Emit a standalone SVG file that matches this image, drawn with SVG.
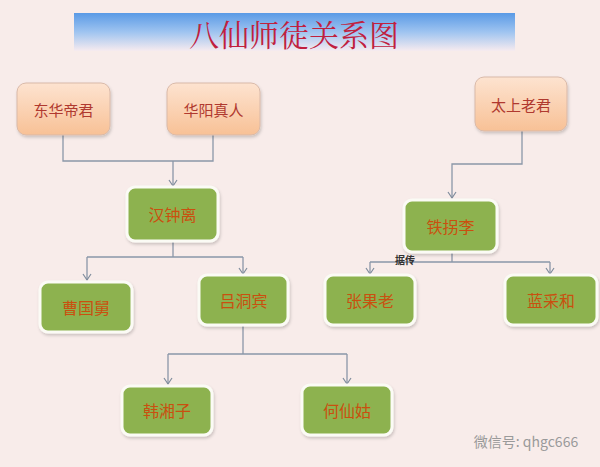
<svg xmlns="http://www.w3.org/2000/svg" width="600" height="467" viewBox="0 0 600 467">
<defs>
<linearGradient id="banner" x1="0" y1="0" x2="0" y2="1">
<stop offset="0" stop-color="#5a9ae6"/>
<stop offset="0.5" stop-color="#9fc4f0"/>
<stop offset="1" stop-color="#f7ebef"/>
</linearGradient>
<linearGradient id="peach" x1="0" y1="0" x2="0" y2="1">
<stop offset="0" stop-color="#fde3d0"/>
<stop offset="1" stop-color="#f8c196"/>
</linearGradient>
<filter id="sh" x="-10%" y="-10%" width="130%" height="140%">
<feDropShadow dx="1" dy="2" stdDeviation="1.5" flood-color="#000" flood-opacity="0.18"/>
</filter>
<marker id="arrd" markerWidth="10" markerHeight="10" refX="5" refY="8" orient="0" markerUnits="userSpaceOnUse" viewBox="0 0 10 10">
<path d="M1,2 L5,8 L9,2" fill="none" stroke="#7f8c9c" stroke-width="1.2"/>
</marker>
</defs>
<style>
.bg{fill:#f8ecea}
.peach rect{fill:url(#peach);stroke:#d9b9a8;stroke-width:1;filter:url(#sh)}
.peach text{fill:#b0392f;font-size:15px}
.green rect{fill:#8db24f;stroke:#fbfbf5;stroke-width:3;filter:url(#sh)}
.green text{fill:#c9500f;font-size:16px}
text{font-family:"Noto Sans CJK SC","Noto Sans",sans-serif;text-anchor:middle;dominant-baseline:central}
.conn path{fill:none;stroke:#8a97a8;stroke-width:1.3}
.title{fill:#c0203e;font-size:30px;font-family:"Noto Serif CJK SC","Noto Sans CJK SC",serif}
.lbl{fill:#333;font-size:10px;font-weight:bold}
.wm{fill:#9a9a9a;font-size:14px}
</style>
<rect class="bg" width="600" height="467"/>
<g id="title">
<rect x="74" y="13" width="441" height="38" fill="url(#banner)"/>
<text class="title" x="294" y="33">八仙师徒关系图</text>
</g>
<g class="conn" id="connectors">
<path d="M63,135 V161 H213 V135"/>
<path d="M173,161 V186" marker-end="url(#arrd)"/>
<path d="M173,242 V257"/>
<path d="M87,257 H243"/>
<path d="M87,257 V280" marker-end="url(#arrd)"/>
<path d="M243,257 V274" marker-end="url(#arrd)"/>
<path d="M243,325 V354"/>
<path d="M168,354 H347"/>
<path d="M168,354 V384" marker-end="url(#arrd)"/>
<path d="M347,354 V384" marker-end="url(#arrd)"/>
<path d="M522,131 V164 H452 V198" marker-end="url(#arrd)"/>
<path d="M452,252 V262"/>
<path d="M370,262 H550"/>
<path d="M370,262 V274" marker-end="url(#arrd)"/>
<path d="M550,262 V274" marker-end="url(#arrd)"/>
<text class="lbl" x="405" y="259">据传</text>
</g>
<g id="donghua" class="peach"><rect x="17" y="83" width="93" height="52" rx="9"/><text x="63.5" y="109">东华帝君</text></g>
<g id="huayang" class="peach"><rect x="167" y="83" width="93" height="52" rx="9"/><text x="213.5" y="109">华阳真人</text></g>
<g id="taishang" class="peach"><rect x="475" y="77" width="92" height="54" rx="9"/><text x="521" y="104">太上老君</text></g>
<g id="hanzhongli" class="green"><rect x="127" y="187" width="91" height="54" rx="8"/><text x="172.5" y="214">汉钟离</text></g>
<g id="tieguaili" class="green"><rect x="404" y="200" width="93" height="52" rx="8"/><text x="450.5" y="226">铁拐李</text></g>
<g id="caoguojiu" class="green"><rect x="40" y="282" width="92" height="50" rx="8"/><text x="86" y="307">曹国舅</text></g>
<g id="lvdongbin" class="green"><rect x="199" y="275" width="89" height="50" rx="8"/><text x="243.5" y="300">吕洞宾</text></g>
<g id="zhangguolao" class="green"><rect x="325" y="275" width="90" height="50" rx="8"/><text x="370" y="300">张果老</text></g>
<g id="lancaihe" class="green"><rect x="505" y="275" width="92" height="50" rx="8"/><text x="551" y="300">蓝采和</text></g>
<g id="hanxiangzi" class="green"><rect x="122" y="386" width="90" height="49" rx="8"/><text x="167" y="410">韩湘子</text></g>
<g id="hexiangu" class="green"><rect x="302" y="385" width="90" height="50" rx="8"/><text x="347" y="410">何仙姑</text></g>
<g id="watermark">
<text class="wm" x="526" y="441">微信号: qhgc666</text>
</g>
</svg>
